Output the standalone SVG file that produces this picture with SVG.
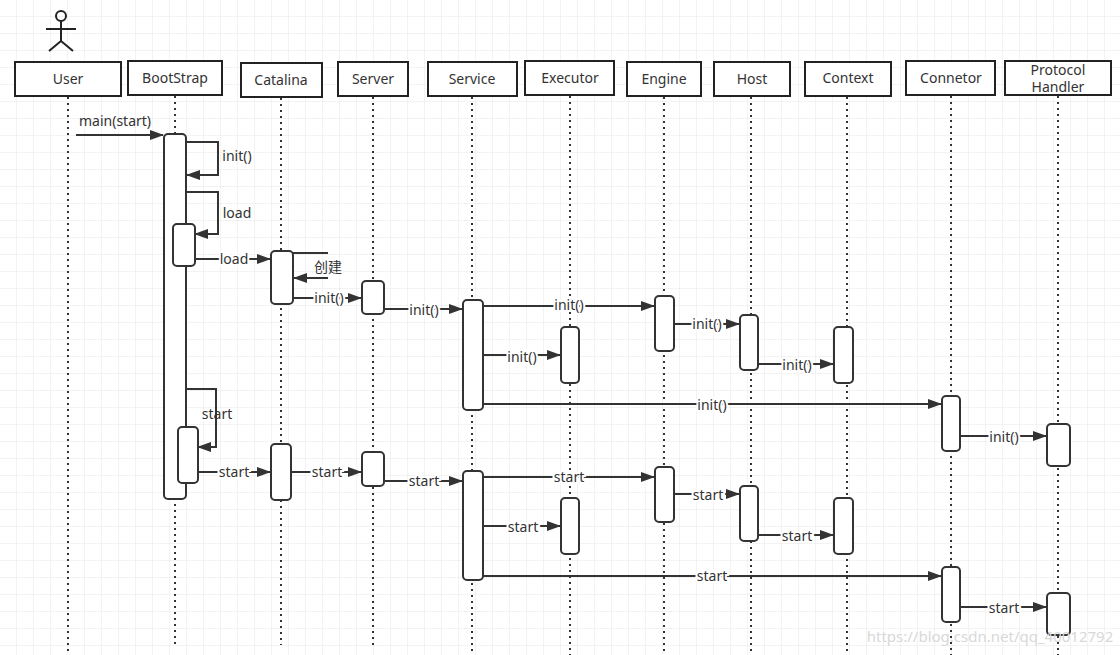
<svg xmlns="http://www.w3.org/2000/svg" width="1120" height="655" viewBox="0 0 1120 655">
<style>
.hd{fill:#fff;stroke:#222;stroke-width:2}
.act{fill:#fff;stroke:#333;stroke-width:2}
.ll{stroke:#333;stroke-width:2;stroke-dasharray:2 4;fill:none}
.m{stroke:#333;stroke-width:2;fill:none;marker-end:url(#ah)}
text{font-family:"Microsoft YaHei","Noto Sans","Noto Sans CJK SC",sans-serif;font-size:14px;fill:#333;text-anchor:middle}
.lb{paint-order:stroke;stroke:#fff;stroke-width:4}
</style>
<defs>
<marker id="ah" markerWidth="14" markerHeight="10" refX="13" refY="5" orient="auto" markerUnits="userSpaceOnUse"><path d="M0,0 L14,5 L0,10 Z" fill="#333"/></marker>
<pattern id="g" width="17" height="17" patternUnits="userSpaceOnUse"><path d="M17,0 V17 H0" fill="none" stroke="#e6e6e6" stroke-width="1"/></pattern>
</defs>
<rect width="1120" height="655" fill="#fff"/>
<rect width="1120" height="655" fill="url(#g)"/>
<g id="lifelines">
<path class="ll" d="M68,97V655M175,96V645M281,98V645M373,97V645M472,97V655M570,96V655M664,97V655M751,97V655M847,97V655M951,96V655M1058,96V655"/>
</g>
<g id="actor" stroke="#222" stroke-width="2" fill="none"><circle cx="61" cy="16" r="5"/><path d="M61,21V41M46,29H76M61,41L49,51M61,41L73,51"/></g>
<g id="User"><rect class="hd" x="15" y="62" width="106" height="34"/><text x="68" y="84">User</text></g>
<g id="BootStrap"><rect class="hd" x="128" y="61" width="94" height="34"/><text x="175" y="83">BootStrap</text></g>
<g id="Catalina"><rect class="hd" x="241" y="63" width="81" height="34"/><text x="281" y="85">Catalina</text></g>
<g id="Server"><rect class="hd" x="338" y="62" width="70" height="34"/><text x="373" y="84">Server</text></g>
<g id="Service"><rect class="hd" x="428" y="62" width="89" height="34"/><text x="472" y="84">Service</text></g>
<g id="Executor"><rect class="hd" x="525" y="61" width="89" height="34"/><text x="570" y="83">Executor</text></g>
<g id="Engine"><rect class="hd" x="627" y="62" width="74" height="34"/><text x="664" y="84">Engine</text></g>
<g id="Host"><rect class="hd" x="714" y="62" width="76" height="34"/><text x="752" y="84">Host</text></g>
<g id="Context"><rect class="hd" x="805" y="62" width="86" height="34"/><text x="848" y="83">Context</text></g>
<g id="Connetor"><rect class="hd" x="906" y="61" width="89" height="34"/><text x="951" y="83">Connetor</text></g>
<g id="ProtocolHandler"><rect class="hd" x="1005" y="61" width="106" height="34"/><text x="1058" y="75">Protocol</text><text x="1058" y="92">Handler</text></g>
<g id="activations">
<rect class="act" x="164" y="134" width="22" height="365" rx="4"/>
<rect class="act" x="173" y="224" width="22" height="42" rx="4"/>
<rect class="act" x="178" y="427" width="20" height="56" rx="4"/>
<rect class="act" x="271" y="251" width="22" height="53" rx="4"/>
<rect class="act" x="271" y="444" width="20" height="56" rx="4"/>
<rect class="act" x="362" y="281" width="22" height="33" rx="4"/>
<rect class="act" x="362" y="452" width="22" height="34" rx="4"/>
<rect class="act" x="463" y="300" width="20" height="110" rx="4"/>
<rect class="act" x="463" y="471" width="20" height="109" rx="4"/>
<rect class="act" x="561" y="327" width="18" height="56" rx="4"/>
<rect class="act" x="561" y="498" width="18" height="56" rx="4"/>
<rect class="act" x="655" y="296" width="19" height="55" rx="4"/>
<rect class="act" x="655" y="467" width="19" height="55" rx="4"/>
<rect class="act" x="740" y="315" width="18" height="55" rx="4"/>
<rect class="act" x="740" y="486" width="18" height="55" rx="4"/>
<rect class="act" x="834" y="327" width="19" height="56" rx="4"/>
<rect class="act" x="834" y="498" width="19" height="56" rx="4"/>
<rect class="act" x="942" y="396" width="18" height="55" rx="4"/>
<rect class="act" x="942" y="567" width="18" height="55" rx="4"/>
<rect class="act" x="1047" y="424" width="23" height="42" rx="4"/>
<rect class="act" x="1047" y="593" width="23" height="42" rx="4"/>
</g>
<g id="connectors">
<path class="m" d="M76,135H163"/>
<path class="m" d="M186,142H218V175H187"/>
<path class="m" d="M186,192H218V234H195"/>
<path class="m" d="M195,259H270"/>
<path class="m" d="M293,253H328M328,278H294"/>
<path class="m" d="M293,298H361"/>
<path class="m" d="M384,309H462"/>
<path class="m" d="M483,306H654"/>
<path class="m" d="M483,355H560"/>
<path class="m" d="M674,324H739"/>
<path class="m" d="M758,364H833"/>
<path class="m" d="M483,404H941"/>
<path class="m" d="M960,436H1046"/>
<path class="m" d="M186,389H216V447H198"/>
<path class="m" d="M198,472H270"/>
<path class="m" d="M291,472H361"/>
<path class="m" d="M384,481H462"/>
<path class="m" d="M483,477H654"/>
<path class="m" d="M483,526H560"/>
<path class="m" d="M674,494H739"/>
<path class="m" d="M758,535H833"/>
<path class="m" d="M483,576H941"/>
<path class="m" d="M960,607H1046"/>
</g>
<g id="labels">
<text x="115" y="126">main(start)</text>
<text x="237" y="161">init()</text>
<text x="237" y="218">load</text>
<text class="lb" x="234" y="264">load</text>
<text x="328" y="272">创建</text>
<text class="lb" x="329" y="303">init()</text>
<text class="lb" x="424" y="315">init()</text>
<text class="lb" x="569" y="310">init()</text>
<text class="lb" x="522" y="362">init()</text>
<text class="lb" x="707" y="329">init()</text>
<text class="lb" x="797" y="370">init()</text>
<text class="lb" x="712" y="410">init()</text>
<text class="lb" x="1004" y="442">init()</text>
<text x="217" y="419">start</text>
<text class="lb" x="234" y="477">start</text>
<text class="lb" x="327" y="477">start</text>
<text class="lb" x="424" y="486">start</text>
<text class="lb" x="569" y="482">start</text>
<text class="lb" x="523" y="532">start</text>
<text class="lb" x="708" y="500">start</text>
<text class="lb" x="797" y="541">start</text>
<text class="lb" x="712" y="581">start</text>
<text class="lb" x="1004" y="613">start</text>
<text x="990" y="642" style="fill:#d8d8d8;font-size:15px">https://blog.csdn.net/qq_40012792</text>
</g>
</svg>
